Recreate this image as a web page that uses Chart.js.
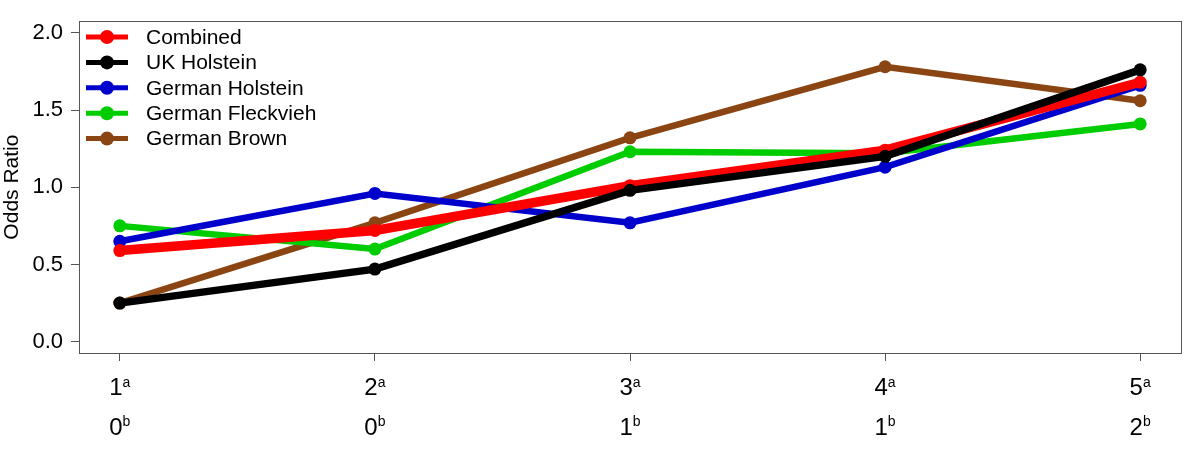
<!DOCTYPE html>
<html>
<head>
<meta charset="utf-8">
<script src="https://cdn.jsdelivr.net/npm/chart.js@4"></script>
<style>
    body { margin: 0; background: #fff; }
    #wrap { width: 1200px; height: 453px; position: relative; }
</style>
</head>
<body>
<div id="wrap"><canvas id="grafico-odds"></canvas></div>
<script>
// data
const positions = [1, 2, 3, 4, 5];
const labelsTop = ['1', '2', '3', '4', '5'];   // superscript a
const labelsBottom = ['0', '0', '1', '1', '2']; // superscript b
const yTicks = [0, 0.5, 1.0, 1.5, 2.0];

const seriesNames = ['Combined', 'UK Holstein', 'German Holstein', 'German Fleckvieh', 'German Brown'];
const combined = [0.59, 0.72, 1.01, 1.24, 1.68];
const ukHolstein = [0.25, 0.47, 0.98, 1.20, 1.76];
const germanHolstein = [0.65, 0.96, 0.77, 1.13, 1.66];
const germanFleckvieh = [0.75, 0.60, 1.23, 1.22, 1.41];
const germanBrown = [0.25, 0.77, 1.32, 1.78, 1.56];

const cores = ['#ff0000', '#000000', '#0000cd', '#00cd00', '#8b4513'];
const espessuras = [9.5, 7.5, 6.5, 6.5, 6.5];
const ordem = [1, 0, 2, 3, 4]; // black on top, then red

const fonte = '"Liberation Sans", Arial, Helvetica, sans-serif';

function toPoints(vals) {
    return vals.map((v, i) => ({ x: positions[i], y: v }));
}

const valores = [combined, ukHolstein, germanHolstein, germanFleckvieh, germanBrown];

const datasets = valores.map((vals, i) => ({
    label: seriesNames[i],
    data: toPoints(vals),
    borderColor: cores[i],
    backgroundColor: cores[i],
    borderWidth: espessuras[i],
    pointRadius: 6.5,
    pointBorderWidth: 0,
    pointHoverRadius: 6.5,
    tension: 0,
    order: ordem[i]
}));

// box, x labels with superscripts and the legend inside the plot
const extras = {
    id: 'extras',
    afterDraw(chart) {
        const ctx = chart.ctx;
        const area = chart.chartArea;
        const xs = chart.scales.x;
        ctx.save();

        ctx.strokeStyle = '#555';
        ctx.lineWidth = 1;
        ctx.strokeRect(Math.round(area.left) + 0.5, Math.round(area.top) + 0.5,
            Math.round(area.right - area.left), Math.round(area.bottom - area.top));

        ctx.fillStyle = '#000';
        ctx.textBaseline = 'alphabetic';
        ctx.textAlign = 'left';
        const rows = [[labelsTop, 'a', 395, 8.5], [labelsBottom, 'b', 435, 9]];
        rows.forEach(row => {
            row[0].forEach((txt, i) => {
                const px = xs.getPixelForValue(positions[i]);
                ctx.font = '24px ' + fonte;
                const w1 = ctx.measureText(txt).width;
                ctx.font = '14px ' + fonte;
                const w2 = ctx.measureText(row[1]).width;
                const x0 = px - (w1 + w2) / 2;
                ctx.font = '24px ' + fonte;
                ctx.fillText(txt, x0, row[2]);
                ctx.font = '14px ' + fonte;
                ctx.fillText(row[1], x0 + w1, row[2] - row[3]);
            });
        });

        ctx.textBaseline = 'middle';
        ctx.font = '21px ' + fonte;
        seriesNames.forEach((nome, i) => {
            const y = 37 + i * 25.4;
            ctx.strokeStyle = cores[i];
            ctx.lineWidth = 5;
            ctx.beginPath();
            ctx.moveTo(86, y);
            ctx.lineTo(128, y);
            ctx.stroke();
            ctx.fillStyle = cores[i];
            ctx.beginPath();
            ctx.arc(107, y, 7, 0, Math.PI * 2);
            ctx.fill();
            ctx.fillStyle = '#000';
            ctx.fillText(nome, 146, y + 1);
        });
        ctx.restore();
    }
};

const ctx = document.getElementById('grafico-odds').getContext('2d');
var chart = new Chart(ctx, {
    type: 'line',
    data: { datasets: datasets },
    options: {
        responsive: true,
        maintainAspectRatio: false,
        animation: false,
        layout: { padding: { left: 0, top: 20, right: 19, bottom: 0 } },
        plugins: {
            legend: { display: false },
            tooltip: { enabled: false }
        },
        scales: {
            x: {
                type: 'linear',
                min: 0.84,
                max: 5.16,
                afterBuildTicks: function(scale) {
                    scale.ticks = positions.map(v => ({ value: v }));
                },
                afterFit: function(scale) { scale.height = 100; },
                ticks: {
                    callback: function() { return ''; }
                },
                grid: { drawOnChartArea: false, tickLength: 8, color: '#555' },
                border: { display: false }
            },
            y: {
                min: -0.073,
                max: 2.075,
                afterBuildTicks: function(scale) {
                    scale.ticks = yTicks.map(v => ({ value: v }));
                },
                afterFit: function(scale) { scale.width = 79; },
                ticks: {
                    padding: 8,
                    color: '#000',
                    font: { family: fonte, size: 22 },
                    callback: function(value) { return value.toFixed(1); }
                },
                grid: { drawOnChartArea: false, tickLength: 8, color: '#555' },
                border: { display: false },
                title: {
                    display: true,
                    text: 'Odds Ratio',
                    color: '#000',
                    font: { family: fonte, size: 21 },
                    padding: { top: 0, bottom: 0 }
                }
            }
        }
    },
    plugins: [extras]
});
</script>
</body>
</html>
